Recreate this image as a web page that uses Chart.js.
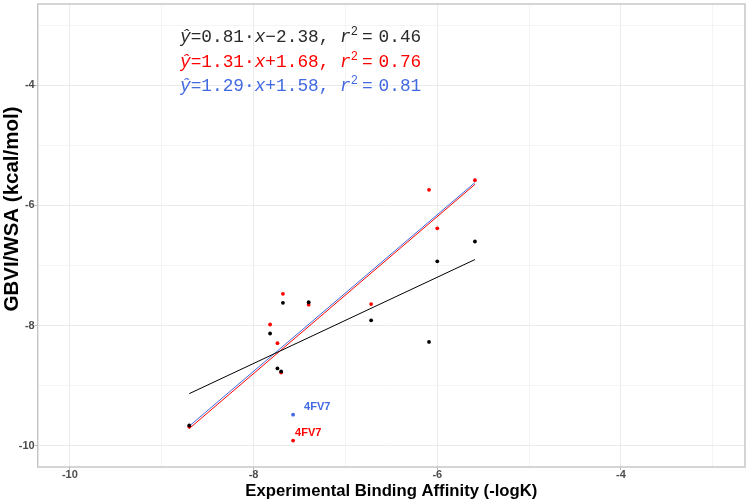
<!DOCTYPE html>
<html><head><meta charset="utf-8">
<script src="https://cdn.jsdelivr.net/npm/chart.js@4.4.1/dist/chart.umd.min.js"></script>
<style>html,body{margin:0;padding:0;background:#fff;}#wrap{width:749px;height:500px;position:relative;}</style>
</head><body><div id="wrap"><canvas id="c" width="749" height="500"></canvas></div>
<script>
// ---- data ----
const gbviX = [-8.70, -7.82, -7.74, -7.70, -7.68, -7.40, -6.72, -6.09, -6.00, -5.59];
const gbviY = [-9.66, -8.13, -8.71, -8.76, -7.62, -7.61, -7.91, -8.27, -6.93, -6.60];
const wsaX  = [-8.70, -7.82, -7.74, -7.70, -7.68, -7.57, -7.40, -6.72, -6.09, -6.00, -5.59];
const wsaY  = [-9.68, -7.98, -8.29, -8.78, -7.47, -9.91, -7.65, -7.64, -5.74, -6.38, -5.58];
const corrX = [-7.57];
const corrY = [-9.48];
const fitX      = [-8.70, -5.59];
const blackFitY = [-9.13, -6.90];
const redFitY   = [-9.71, -5.65];
const blueFitY  = [-9.67, -5.62];
const tickVals  = [-10, -9, -8, -7, -6, -5, -4, -3];
const labelText = ['4FV7', '4FV7'];
const labelX    = [-7.57, -7.57];
const labelY    = [-9.48, -9.91];
const eqSlope   = ['0.81', '1.31', '1.29'];
const eqIcpt    = ['\u22122.38', '+1.68', '+1.58'];
const eqR2      = ['0.46', '0.76', '0.81'];
const xTitle = 'Experimental Binding Affinity (-logK)';
const yTitle = 'GBVI/WSA (kcal/mol)';

// ---- styles ----
const ROYAL = '#4169E1', RED = '#FF0000', BLK = '#000000';
const eqColors = ['#2a2a2a', RED, ROYAL];
const labelColors = [ROYAL, RED];
const labelDx = [11, 2], labelDy = [-8, -8];

const pts = (xs, ys) => xs.map((x, i) => ({x: x, y: ys[i]}));
const isMajor = v => Math.abs(v % 2) < 1e-9;

const panelBorder = {
  id: 'panelBorder',
  afterDatasetsDraw(chart) {
    const {ctx, chartArea: a} = chart;
    ctx.save();
    ctx.strokeStyle = '#C4C4C4';
    ctx.lineWidth = 1.4;
    ctx.strokeRect(a.left, a.top, a.right - a.left, a.bottom - a.top);
    ctx.restore();
  }
};

const pointLabels = {
  id: 'pointLabels',
  afterDatasetsDraw(chart) {
    const {ctx, scales: {x, y}} = chart;
    ctx.save();
    ctx.font = 'bold 11px "Liberation Sans", Arial, sans-serif';
    ctx.textBaseline = 'middle';
    ctx.textAlign = 'left';
    labelText.forEach((t, i) => {
      ctx.fillStyle = labelColors[i];
      ctx.fillText(t, x.getPixelForValue(labelX[i]) + labelDx[i], y.getPixelForValue(labelY[i]) + labelDy[i]);
    });
    ctx.restore();
  }
};

const yTitlePlugin = {
  id: 'yTitlePlugin',
  afterDraw(chart) {
    const {ctx} = chart;
    ctx.save();
    ctx.translate(18, 209);
    ctx.rotate(-Math.PI / 2);
    ctx.font = 'bold 20.5px "Liberation Sans", Arial, sans-serif';
    ctx.fillStyle = '#000';
    ctx.textAlign = 'center';
    ctx.textBaseline = 'alphabetic';
    ctx.fillText(yTitle, 0, 0);
    ctx.restore();
  }
};

const equations = {
  id: 'equations',
  afterDraw(chart) {
    const {ctx} = chart;
    const fs = 17.8;
    const reg = fs + 'px "Liberation Mono", "DejaVu Sans Mono", monospace';
    const ita = 'italic ' + reg;
    const sup = '12px "Liberation Mono", monospace';
    const baselines = [42, 67, 91];
    ctx.save();
    ctx.textBaseline = 'alphabetic';
    ctx.textAlign = 'left';
    eqSlope.forEach((s, i) => {
      let cx = 180;
      const by = baselines[i];
      ctx.fillStyle = eqColors[i];
      const put = (txt, font, dy) => { ctx.font = font; ctx.fillText(txt, cx, by + (dy || 0)); cx += ctx.measureText(txt).width; };
      put('\u0177', ita);
      put('=' + s + '\u00B7', reg);
      put('x', ita);
      put(eqIcpt[i] + ', ', reg);
      put('r', ita);
      put('2', sup, -7);
      cx += 4;
      put('=', reg);
      cx += 6;
      put(eqR2[i], reg);
    });
    ctx.restore();
  }
};

const tickFont = {family: '"Liberation Sans", Arial, sans-serif', size: 11, weight: 'bold'};

const axis = (titleText, tickPad, fit) => ({
  type: 'linear', min: -10.35, max: -2.65,
  afterBuildTicks: s => { s.ticks = tickVals.map(v => ({value: v})); },
  afterFit: s => { fit(s); s.paddingTop = 0; s.paddingBottom = 0; s.paddingLeft = 0; s.paddingRight = 0; },
  ticks: {callback: v => isMajor(v) ? String(v) : '', color: '#4D4D4D', font: tickFont, padding: tickPad, maxRotation: 0, autoSkip: false},
  grid: {
    color: c => (c.tick && isMajor(c.tick.value)) ? '#EBEBEB' : '#F4F4F4',
    lineWidth: 1, tickLength: 3,
    tickColor: c => (c.tick && isMajor(c.tick.value)) ? '#B8B8B8' : 'rgba(0,0,0,0)'
  },
  border: {display: false},
  title: {display: !!titleText, text: titleText || '', color: '#000',
          font: {family: '"Liberation Sans", Arial, sans-serif', size: 16.7, weight: 'bold'},
          padding: {top: 0, bottom: -1.5}}
});

new Chart(document.getElementById('c'), {
  type: 'scatter',
  data: {datasets: [
    {label: 'GBVI', data: pts(gbviX, gbviY), backgroundColor: BLK, borderWidth: 0, pointRadius: 1.9, order: 0},
    {label: 'WSA', data: pts(wsaX, wsaY), backgroundColor: RED, borderWidth: 0, pointRadius: 1.9, order: 1},
    {label: 'WSA corrected', data: pts(corrX, corrY), backgroundColor: ROYAL, borderWidth: 0, pointRadius: 1.9, order: 2},
    {label: 'GBVI fit', type: 'line', data: pts(fitX, blackFitY), borderColor: BLK, borderWidth: 1, pointRadius: 0, fill: false, order: 3},
    {label: 'WSA fit', type: 'line', data: pts(fitX, redFitY), borderColor: RED, borderWidth: 1, pointRadius: 0, fill: false, order: 4},
    {label: 'WSA corrected fit', type: 'line', data: pts(fitX, blueFitY), borderColor: ROYAL, borderWidth: 1, pointRadius: 0, fill: false, order: 5}
  ]},
  options: {
    responsive: false, animation: false,
    layout: {padding: {top: 2.3, right: 2.3, left: 0, bottom: 0}},
    plugins: {legend: {display: false}, tooltip: {enabled: false}},
    scales: {
      x: axis(xTitle, -2, s => { s.height = 33; }),
      y: axis(null, 0, s => { s.width = 37.7; })
    }
  },
  plugins: [panelBorder, pointLabels, equations, yTitlePlugin]
});
</script></body></html>
